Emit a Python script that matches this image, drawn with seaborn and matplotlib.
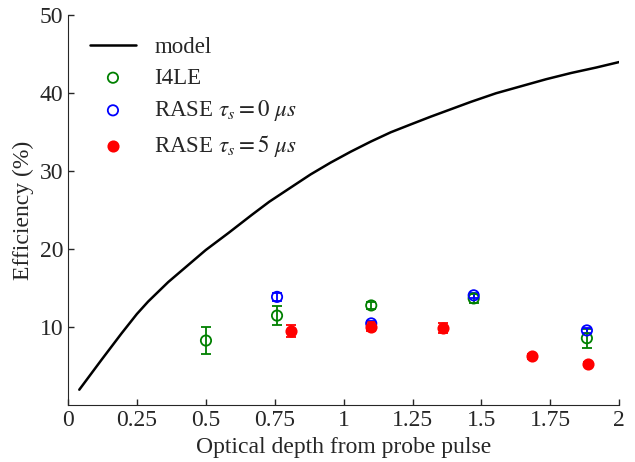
import matplotlib
matplotlib.use("Agg")
import matplotlib.pyplot as plt
import numpy as np
import pandas as pd
import seaborn as sns

# model curve
model_x = [0.04, 0.12, 0.193, 0.249, 0.29, 0.363, 0.436, 0.499, 0.582, 0.666,
           0.73, 0.807, 0.88, 0.952, 1.025, 1.098, 1.171, 1.243, 1.316, 1.389,
           1.462, 1.553, 1.644, 1.735, 1.826, 1.917, 2.0]
model_y = [2.0, 5.8, 9.2, 11.7, 13.3, 15.8, 18.0, 19.9, 22.1, 24.4,
           26.1, 27.9, 29.6, 31.1, 32.5, 33.8, 35.0, 36.0, 37.0, 37.95,
           38.9, 40.0, 40.9, 41.8, 42.6, 43.3, 44.0]

# measured points
i4le_x = [0.5, 0.758, 1.1, 1.472, 1.883]
i4le_y = [8.3, 11.5, 12.8, 13.7, 8.6]
i4le_err = [1.7, 1.2, 0.5, 0.6, 1.2]

rase0_x = [0.758, 1.1, 1.472, 1.883]
rase0_y = [13.9, 10.5, 14.1, 9.6]
rase0_err = [0.5, 0.3, 0.3, 0.3]

rase5_x = [0.81, 1.1, 1.362, 1.684, 1.886]
rase5_y = [9.5, 10.1, 9.9, 6.3, 5.3]
rase5_err = [0.8, 0.6, 0.6, 0.3, 0.3]

x_ticks = [0, 0.25, 0.5, 0.75, 1, 1.25, 1.5, 1.75, 2]
x_tick_labels = ["0", "0.25", "0.5", "0.75", "1", "1.25", "1.5", "1.75", "2"]
y_ticks = [10, 20, 30, 40, 50]

sns.set_style("ticks")
plt.rcParams["font.family"] = ["Liberation Serif", "DejaVu Serif"]
plt.rcParams["mathtext.fontset"] = "stix"
plt.rcParams["xtick.direction"] = "in"
plt.rcParams["ytick.direction"] = "in"

fig = plt.figure(figsize=(6.35, 4.62), dpi=100)
ax = fig.add_axes([0.1075, 0.1227, 0.8675, 0.8443])

model_df = pd.DataFrame({"x": model_x, "y": model_y})
sns.lineplot(data=model_df, x="x", y="y", color="black", linewidth=1.8,
             ax=ax, label="model")

series = [
    (i4le_x, i4le_y, i4le_err, "green", "none", "I4LE"),
    (rase0_x, rase0_y, rase0_err, "blue", "none", r"RASE $\tau_s = 0\ \mu s$"),
    (rase5_x, rase5_y, rase5_err, "red", "red", r"RASE $\tau_s = 5\ \mu s$"),
]
for xs, ys, errs, col, face, lab in series:
    ax.errorbar(xs, ys, yerr=errs, fmt="none", ecolor=col, elinewidth=1.3,
                capsize=3.5, capthick=1.3, zorder=2)
    df = pd.DataFrame({"x": xs, "y": ys})
    sns.scatterplot(data=df, x="x", y="y", ax=ax, s=55, marker="o",
                    facecolors=face, edgecolor=col, linewidth=1.3,
                    label=lab, zorder=3)

ax.set_xlim(0, 2)
ax.set_ylim(0, 50)
ax.set_xticks(x_ticks)
ax.set_xticklabels(x_tick_labels)
ax.set_yticks(y_ticks)
ax.tick_params(labelsize=17, length=4, width=1)
ax.set_xlabel("Optical depth from probe pulse", fontsize=17)
ax.set_ylabel("Efficiency (%)", fontsize=17)
sns.despine(ax=ax)

ax.legend(loc="upper left", frameon=False, fontsize=16.5, handlelength=2.0,
          labelspacing=0.42, borderaxespad=0.55)

fig.savefig("out.png", dpi=100)
